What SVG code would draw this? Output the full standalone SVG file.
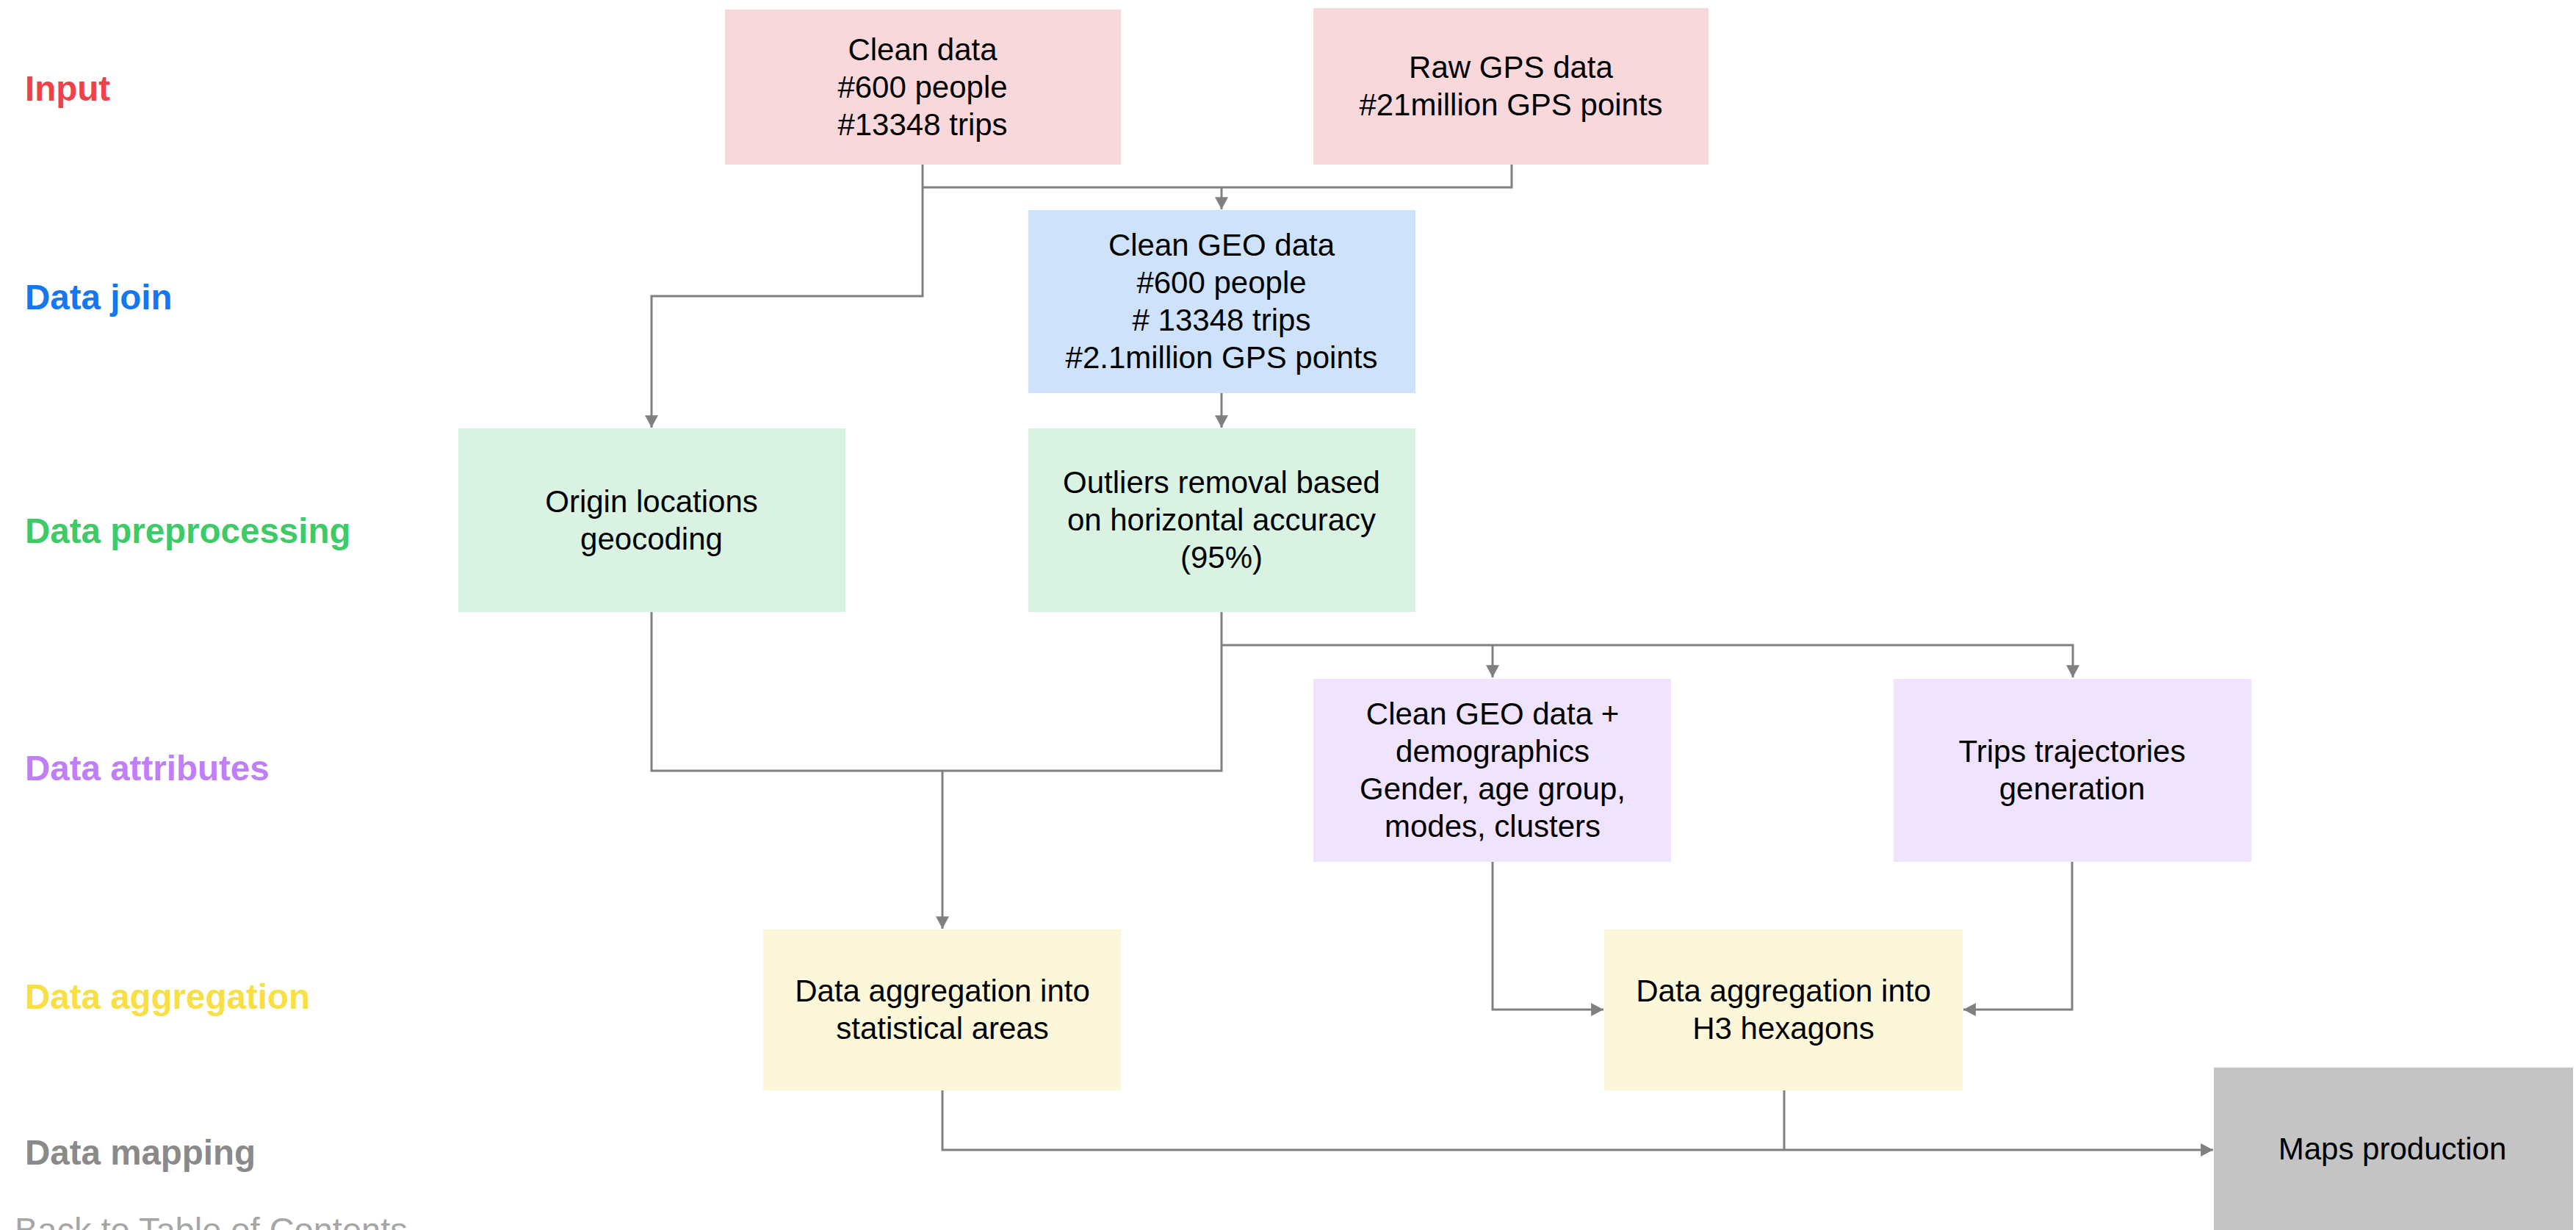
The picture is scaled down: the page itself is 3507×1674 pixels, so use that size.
<svg xmlns="http://www.w3.org/2000/svg" width="3507" height="1674" viewBox="0 0 3507 1674">
<style>
.lbl{font-family:"Liberation Sans",Arial,sans-serif;font-size:47.5px;font-weight:bold}
.t{font-family:"Liberation Sans",Arial,sans-serif;font-size:42px;fill:#000;text-anchor:middle}
.c{fill:none;stroke:#808080;stroke-width:3}
.pink{fill:#F9D8DB}.blue{fill:#CEE3FB}.green{fill:#D9F2E2}.purple{fill:#EFE3FD}.yellow{fill:#FDF7D9}.gray{fill:#C4C4C4}
</style>
<defs>
<marker id="ah" markerUnits="userSpaceOnUse" markerWidth="18" markerHeight="18" viewBox="0 0 16 16" refX="15" refY="8" orient="auto">
<path d="M0,0 L15,8 L0,16 Z" fill="#808080"/>
</marker>
</defs>
<rect width="3507" height="1674" fill="#fff"/>
<g id="stage-labels">
<text class="lbl" x="34" y="137" fill="#EE424A">Input</text>
<text class="lbl" x="34" y="421" fill="#1677F0">Data join</text>
<text class="lbl" x="34" y="739" fill="#3CCB67">Data preprocessing</text>
<text class="lbl" x="34" y="1062" fill="#C07EF7">Data attributes</text>
<text class="lbl" x="34" y="1373" fill="#F7DF45">Data aggregation</text>
<text class="lbl" x="34" y="1585" fill="#8A8A8A">Data mapping</text>
<text x="20" y="1690" font-family="Liberation Sans,Arial,sans-serif" font-size="47" fill="#A6A6A6">Back to Table of Contents</text>
</g>
<g id="connectors">
<path class="c" d="M1256,224 V403 H887 V582" marker-end="url(#ah)"/>
<path class="c" d="M2058,224 V255 H1256"/>
<path class="c" d="M1663,255 V285" marker-end="url(#ah)"/>
<path class="c" d="M1663,535 V582" marker-end="url(#ah)"/>
<path class="c" d="M1663,833 V1049 H887 V833"/>
<path class="c" d="M1283,1049 V1264" marker-end="url(#ah)"/>
<path class="c" d="M1663,878 H2822 V922" marker-end="url(#ah)"/>
<path class="c" d="M2032,878 V922" marker-end="url(#ah)"/>
<path class="c" d="M2032,1173 V1374 H2183" marker-end="url(#ah)"/>
<path class="c" d="M2821,1173 V1374 H2673" marker-end="url(#ah)"/>
<path class="c" d="M1283,1484 V1565 H3013" marker-end="url(#ah)"/>
<path class="c" d="M2429,1484 V1565"/>
</g>
<g id="clean-data">
<rect class="pink" x="987" y="13" width="539" height="211"/>
<text class="t" x="1256" y="82">Clean data</text>
<text class="t" x="1256" y="133">#600 people</text>
<text class="t" x="1256" y="184">#13348 trips</text>
</g>
<g id="raw-gps">
<rect class="pink" x="1788" y="11" width="538" height="213"/>
<text class="t" x="2057" y="106">Raw GPS data</text>
<text class="t" x="2057" y="157">#21million GPS points</text>
</g>
<g id="clean-geo">
<rect class="blue" x="1400" y="286" width="527" height="249"/>
<text class="t" x="1663" y="348">Clean GEO data</text>
<text class="t" x="1663" y="399">#600 people</text>
<text class="t" x="1663" y="450"># 13348 trips</text>
<text class="t" x="1663" y="501">#2.1million GPS points</text>
</g>
<g id="origin">
<rect class="green" x="624" y="583" width="527" height="250"/>
<text class="t" x="887" y="697">Origin locations</text>
<text class="t" x="887" y="748">geocoding</text>
</g>
<g id="outliers">
<rect class="green" x="1400" y="583" width="527" height="250"/>
<text class="t" x="1663" y="671">Outliers removal based</text>
<text class="t" x="1663" y="722">on horizontal accuracy</text>
<text class="t" x="1663" y="773">(95%)</text>
</g>
<g id="demographics">
<rect class="purple" x="1788" y="924" width="487" height="249"/>
<text class="t" x="2032" y="986">Clean GEO data +</text>
<text class="t" x="2032" y="1037">demographics</text>
<text class="t" x="2032" y="1088">Gender, age group,</text>
<text class="t" x="2032" y="1139">modes, clusters</text>
</g>
<g id="trajectories">
<rect class="purple" x="2578" y="924" width="487" height="249"/>
<text class="t" x="2821" y="1037">Trips trajectories</text>
<text class="t" x="2821" y="1088">generation</text>
</g>
<g id="agg-stat">
<rect class="yellow" x="1039" y="1265" width="487" height="219"/>
<text class="t" x="1283" y="1363">Data aggregation into</text>
<text class="t" x="1283" y="1414">statistical areas</text>
</g>
<g id="agg-h3">
<rect class="yellow" x="2184" y="1265" width="488" height="219"/>
<text class="t" x="2428" y="1363">Data aggregation into</text>
<text class="t" x="2428" y="1414">H3 hexagons</text>
</g>
<g id="maps">
<rect class="gray" x="3014" y="1453" width="489" height="221"/>
<text class="t" x="3257" y="1578">Maps production</text>
</g>
</svg>
